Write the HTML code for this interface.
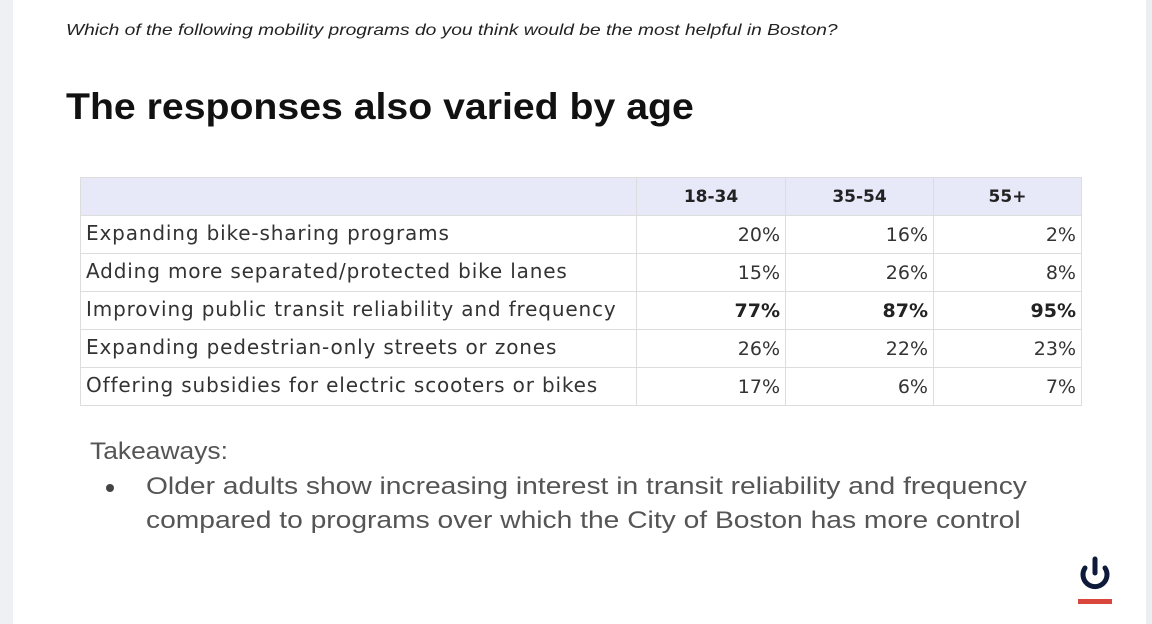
<!DOCTYPE html>
<html><head><style>
body{margin:0;width:1152px;height:624px;background:#fff;position:relative;overflow:hidden;font-family:"Liberation Sans",sans-serif}
.ls{position:absolute;left:0;top:0;width:13px;height:624px;background:#eef0f3}
.rs{position:absolute;right:0;top:0;width:6px;height:624px;background:#eceef1}
.s{transform-origin:0 0;white-space:nowrap}
.q{position:absolute;left:66px;top:22px;font-size:16px;font-style:italic;color:#222;transform:scaleX(1.2)}
.t{position:absolute;left:66px;top:86px;font-size:37px;font-weight:bold;color:#111;transform:scaleX(1.06)}
table{position:absolute;left:80px;top:177px;border-collapse:collapse;font-size:20px;color:#333;font-family:"DejaVu Sans",sans-serif}
td{border:1px solid #ddd;height:37px;padding:0 5px;white-space:nowrap}
td.l{letter-spacing:0.85px;padding-bottom:3px;height:34px}
tr:first-child td{background:#e8e9f8;font-weight:bold;color:#222;text-align:center;font-size:17px}
td.n{text-align:right;font-size:19px}
.b{font-weight:bold;color:#222}
.tk{position:absolute;left:90px;top:438px;font-size:24px;color:#555;transform:scaleX(1.1)}
.bl{position:absolute;left:146px;top:470px;font-size:24px;color:#555;line-height:34px;transform:scaleX(1.175)}
.dot{position:absolute;left:106px;top:484px;width:8px;height:8px;border-radius:50%;background:#444}
</style></head><body>
<div class="ls"></div><div class="rs"></div>
<div class="q s">Which of the following mobility programs do you think would be the most helpful in Boston?</div>
<div class="t s">The responses also varied by age</div>
<table>
<tr><td style="width:545px"></td><td style="width:138px">18-34</td><td style="width:137px">35-54</td><td style="width:137px">55+</td></tr>
<tr><td class="l">Expanding bike-sharing programs</td><td class="n">20%</td><td class="n">16%</td><td class="n">2%</td></tr>
<tr><td class="l">Adding more separated/protected bike lanes</td><td class="n">15%</td><td class="n">26%</td><td class="n">8%</td></tr>
<tr><td class="l">Improving public transit reliability and frequency</td><td class="n b">77%</td><td class="n b">87%</td><td class="n b">95%</td></tr>
<tr><td class="l">Expanding pedestrian-only streets or zones</td><td class="n">26%</td><td class="n">22%</td><td class="n">23%</td></tr>
<tr><td class="l">Offering subsidies for electric scooters or bikes</td><td class="n">17%</td><td class="n">6%</td><td class="n">7%</td></tr>
</table>
<div class="tk s">Takeaways:</div>
<div class="dot"></div>
<div class="bl s">Older adults show increasing interest in transit reliability and frequency<br>compared to programs over which the City of Boston has more control</div>
<svg style="position:absolute;left:1076px;top:552px" width="40" height="60">
<path d="M9 16 A12 12 0 1 0 29 16" fill="none" stroke="#0d1a3a" stroke-width="5" stroke-linecap="round"/>
<line x1="19" y1="7" x2="19" y2="21" stroke="#0d1a3a" stroke-width="5" stroke-linecap="round"/>
<rect x="2" y="47" width="34" height="5" fill="#d9473c"/>
</svg>
</body></html>
